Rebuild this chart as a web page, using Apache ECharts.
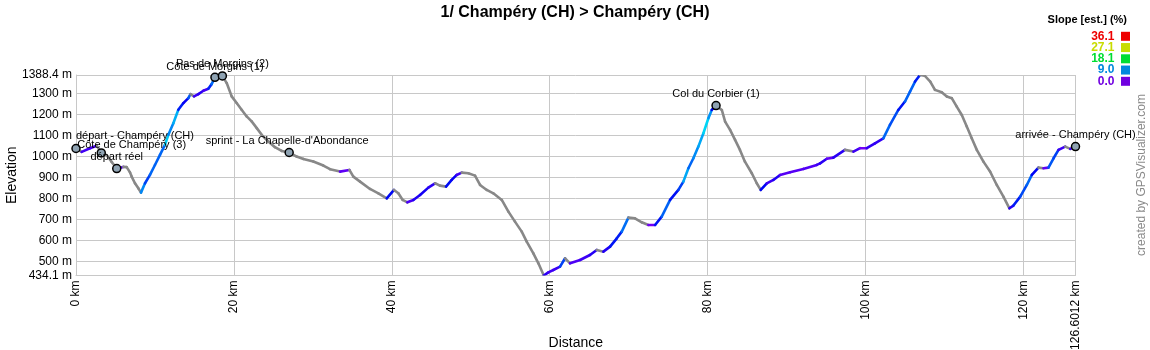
<!DOCTYPE html>
<html><head><meta charset="utf-8">
<script src="https://cdn.jsdelivr.net/npm/echarts@6/dist/echarts.min.js"></script>
<style>html,body{margin:0;padding:0;background:#fff}#c{width:1150px;height:350px}</style>
</head><body><div id="c"></div>
<script>
const chartTitle = '1/ Champéry (CH) > Champéry (CH)';
const xAxisName = 'Distance';
const yAxisName = 'Elevation';
const distKm = [
  0, 0.72, 1.77, 2.62, 3.2, 3.89, 4.52, 5.16, 5.99, 6.42, 6.84, 7.05, 7.47, 7.9, 8.23,
  8.74, 9.37, 10.0, 10.64, 11.27, 11.7, 12.33, 12.96, 13.6, 14.23, 14.5, 14.95, 15.5, 16.13, 16.76, 17.18, 17.6, 18.54,
  19.09, 19.72, 20.35, 20.98, 21.62, 22.25, 22.9, 23.52, 24.36, 25.2, 26.05, 27.0, 27.95, 28.8, 30.06, 31.33, 32.18,
  33.44, 34.63, 35.13, 35.98, 37.24, 38.3, 39.36, 40.28, 40.83, 41.38, 41.97, 42.73, 43.58, 44.63, 45.48, 46.1, 46.87,
  47.59, 48.22, 48.86, 49.7, 50.54, 51.18, 52.03, 52.86, 53.93, 54.77, 55.6, 56.46, 57.09, 57.93, 58.57, 59.25, 59.83,
  60.46, 61.31, 61.95, 62.58, 63.85, 65.1, 65.96, 66.8, 67.65, 68.5, 69.13, 69.97, 70.8, 71.66, 72.5, 73.35, 74.19,
  75.25, 76.3, 76.93, 77.57, 78.2, 78.83, 79.47, 80.1, 80.53, 81.07,
  81.8, 82.22, 82.85, 83.48, 84.1, 84.73, 85.6, 86.23, 86.73, 87.5, 88.33, 89.18, 90.45, 92.13, 93.83,
  94.25, 95.1, 95.93, 97.4, 98.47, 99.31, 100.16, 101.2, 102.26, 103.1, 104.16, 105.0, 105.64, 106.28, 106.9,
  107.5, 108.2, 108.8, 109.66, 110.3, 110.93, 111.56, 112.2, 112.83, 113.46, 114.1, 114.94, 115.78, 116.63, 117.47,
  118.23, 118.74, 119.6, 120.44, 121.07, 121.91, 122.54, 123.18, 123.82, 124.45, 125.3, 125.94, 126.6012
];
const elevM = [
  1038.6, 1022.4, 1040, 1052, 1017.6, 1006.7, 974.7, 943.2, 950.9, 950, 925, 905, 873, 849, 828.6,
  873, 912.7, 960, 1008, 1055.8, 1103.7, 1159, 1223, 1254.8, 1278.6, 1297.7, 1286.7, 1297.7, 1313.5, 1323, 1345, 1377.4, 1384,
  1350, 1286.7, 1254.8, 1223, 1191.3, 1167.5, 1135.6, 1103.7, 1072, 1044.8, 1027, 1019.6, 1000, 989, 976.4, 957.5, 940,
  928.6, 936.5, 904.8, 881, 846, 825.4, 801.6, 841.3, 825.4, 793.7, 782.5, 793.7, 817.5, 852.4, 873, 862, 857.1,
  889, 912.7, 923.8, 920.6, 909.5, 865, 841.3, 825.4, 793.7, 738, 690.5, 642.9, 595.2, 539.7, 492, 434.1, 449.2,
  460.3, 476, 516, 492, 508, 531.8, 555.6, 547.6, 571.4, 611, 642.9, 709.5, 706.3, 687.3, 674.6, 674.6, 714.3,
  793.7, 841.3, 881, 944.4, 992, 1047.6, 1111, 1182.5, 1222, 1243,
  1222, 1166.7, 1127, 1079.4, 1031.7, 976, 920.6, 873, 841.3, 873, 889, 912.7, 925.4, 941.3, 960.3,
  968, 990, 995, 1032, 1024, 1040, 1040, 1063.5, 1087, 1151, 1222, 1262, 1309.5, 1357, 1388.4,
  1385, 1357, 1317.5, 1306, 1286, 1278, 1238, 1198, 1143, 1087, 1032, 976, 929, 865, 809.5,
  754, 767, 809.5, 865, 912.7, 947.6, 944.4, 947.6, 992, 1031.7, 1047.6, 1036.5, 1047.6
];
const markerNames = ['départ - Champéry (CH)', 'Côte de Champéry (3)', 'départ réel', 'Côte de Morgins (1)',
  'Pas de Morgins (2)', "sprint - La Chapelle-d'Abondance", 'Col du Corbier (1)', 'arrivée - Champéry (CH)'];
const markerKm = [0, 3.2, 5.16, 17.6, 18.54, 27.0, 81.07, 126.6012];
const markerElev = [1038.6, 1017.6, 943.2, 1377.4, 1384, 1019.6, 1243, 1047.6];
const yTicks = [434.1, 500, 600, 700, 800, 900, 1000, 1100, 1200, 1300, 1388.4];
const xTicks = [0, 20, 40, 60, 80, 100, 120, 126.6012];
const legendTitle = 'Slope [est.] (%)';
const legendLabels = ['36.1', '27.1', '18.1', '9.0', '0.0'];
const legendColors = ['#ee0000', '#c8dc00', '#00dd33', '#0088dd', '#7000e0'];
const creditText = 'created by GPSVisualizer.com';

const FONT = "'Liberation Sans', Arial, sans-serif";
const GRID = '#c8c8c8';

// slope -> colour (hue spectrum purple -> blue -> green -> yellow -> red)
const slopeStops = [0, 9.0, 18.1, 27.1, 36.1];
const hueStops = [268, 205, 140, 65, 0];
function slopeColor(s) {
  if (s < 0) return '#888888';
  if (s >= slopeStops[4]) return 'hsl(0,100%,46%)';
  let i = 0;
  while (s > slopeStops[i + 1]) i++;
  const t = (s - slopeStops[i]) / (slopeStops[i + 1] - slopeStops[i]);
  const h = hueStops[i] + t * (hueStops[i + 1] - hueStops[i]);
  return 'hsl(' + h.toFixed(0) + ',100%,48%)';
}

const segments = [];
for (let i = 0; i < distKm.length - 1; i++) {
  const slope = (elevM[i + 1] - elevM[i]) / ((distKm[i + 1] - distKm[i]) * 10);
  segments.push([distKm[i], elevM[i], distKm[i + 1], elevM[i + 1], slope]);
}

const labelTweaks = {
  0: { align: 'left', offset: [0, -1] },
  1: { align: 'left', offset: [-24, 3] },
  3: { offset: [0, 1] },
  4: { offset: [0, -1] },
  5: { offset: [-2, 0] }
};
const markerData = markerNames.map((n, i) => {
  const t = labelTweaks[i] || {};
  const lab = { show: true, position: 'top', distance: 1, formatter: n, fontSize: 11, color: '#000', fontFamily: FONT };
  if (t.align) lab.align = t.align;
  if (t.offset) lab.offset = t.offset;
  return { value: [markerKm[i], markerElev[i]], label: lab };
});

const graphics = [];
graphics.push({ type: 'text', x: 1127, y: 20, style: { text: legendTitle, font: 'bold 11px ' + FONT, fill: '#000', align: 'right', verticalAlign: 'middle' } });
legendLabels.forEach((l, i) => {
  const yc = 36.3 + i * 11.25;
  graphics.push({ type: 'text', x: 1114.5, y: yc, style: { text: l, font: 'bold 12px ' + FONT, fill: legendColors[i], align: 'right', verticalAlign: 'middle' } });
  graphics.push({ type: 'rect', shape: { x: 1121, y: yc - 4.5, width: 9, height: 9 }, style: { fill: legendColors[i] } });
});
graphics.push({ type: 'text', x: 1142, y: 175, rotation: Math.PI / 2, style: { text: creditText, font: '12px ' + FONT, fill: '#8a8a8a', align: 'center', verticalAlign: 'middle' } });

const chart = echarts.init(document.getElementById('c'), null, { renderer: 'canvas' });
chart.setOption({
  animation: false,
  backgroundColor: '#fff',
  title: { text: chartTitle, left: 'center', top: 0, textStyle: { fontSize: 16, fontWeight: 'bold', color: '#000', fontFamily: FONT } },
  grid: { left: 76, right: 74.5, top: 75, bottom: 74.5, containLabel: false, outerBoundsMode: 'none' },
  xAxis: {
    type: 'value', min: 0, max: 126.6012,
    name: xAxisName, nameLocation: 'middle', nameGap: 61, nameMoveOverlap: false,
    nameTextStyle: { fontSize: 14, color: '#000', fontFamily: FONT },
    axisLine: { show: true, lineStyle: { color: GRID } },
    axisTick: { show: false, customValues: xTicks },
    axisLabel: { customValues: xTicks, rotate: 90, margin: 5, fontSize: 12, color: '#000', fontFamily: FONT, formatter: v => v + ' km' },
    splitLine: { show: true, lineStyle: { color: GRID, width: 1 } }
  },
  yAxis: {
    type: 'value', min: 434.1, max: 1388.4,
    name: yAxisName, nameLocation: 'middle', nameGap: 57, nameMoveOverlap: false,
    nameTextStyle: { fontSize: 14, color: '#000', fontFamily: FONT },
    axisLine: { show: true, lineStyle: { color: GRID } },
    axisTick: { show: false, customValues: yTicks },
    axisLabel: { customValues: yTicks, margin: 4, fontSize: 12, color: '#000', fontFamily: FONT, formatter: v => v + ' m' },
    splitLine: { show: true, lineStyle: { color: GRID, width: 1 } }
  },
  graphic: graphics,
  series: [
    {
      type: 'custom',
      data: segments,
      encode: { x: [0, 2], y: [1, 3] },
      clip: true,
      z: 3,
      renderItem: function (params, api) {
        const p0 = api.coord([api.value(0), api.value(1)]);
        const p1 = api.coord([api.value(2), api.value(3)]);
        return {
          type: 'line',
          shape: { x1: p0[0], y1: p0[1], x2: p1[0], y2: p1[1] },
          style: { stroke: slopeColor(api.value(4)), lineWidth: 2.6, lineCap: 'round' }
        };
      }
    },
    {
      type: 'scatter',
      data: markerData,
      symbol: 'circle',
      symbolSize: 8,
      z: 5,
      itemStyle: { color: '#8fa3b3', borderColor: '#000', borderWidth: 1.5, opacity: 1 },
      emphasis: { disabled: true }
    }
  ]
});
</script>
</body></html>
